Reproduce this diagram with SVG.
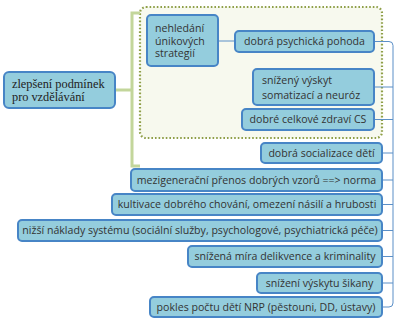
<svg xmlns="http://www.w3.org/2000/svg" width="397" height="326" viewBox="0 0 397 326">
<style>
.box{fill:#94cddd;stroke:#4785c6;stroke-width:2}
.t{font-family:"Open Sans","Liberation Sans",sans-serif;font-size:10.6px;fill:#333}
.c{text-anchor:middle}
.root{font-family:"Liberation Serif",serif;font-size:12.3px;fill:#222}
.ln{fill:none;stroke:#5b8fc7;stroke-width:1}
</style>
<rect x="0" y="0" width="397" height="326" fill="#ffffff"/>
<g id="group-box">
<rect x="140" y="7" width="242" height="131" rx="6" fill="#f7f9ee" stroke="#8f9f48" stroke-width="2.2" stroke-dasharray="1.6 2"/>
</g>
<g id="connectors">
<path d="M115 90 H132" stroke="#c3d69b" stroke-width="3" fill="none"/>
<path d="M140 13 H132 V166 H140" stroke="#c3d69b" stroke-width="3" fill="none"/>
<path class="ln" d="M218 41 H235"/>
<path class="ln" d="M374 41.5 H389 Q393 41.5 393 45.5 V303 Q393 307 389 307 H382"/>
<path class="ln" d="M374 87 H393"/>
<path class="ln" d="M374 119.5 H393"/>
<path class="ln" d="M382 153 H393"/>
<path class="ln" d="M382 180 H393"/>
<path class="ln" d="M382 204.5 H393"/>
<path class="ln" d="M382 230.5 H393"/>
<path class="ln" d="M382 256.5 H393"/>
<path class="ln" d="M382 283 H393"/>
</g>
<g id="root">
<rect class="box" x="4" y="72" width="111" height="36" rx="5"/>
<text class="root" x="12" y="87.5">zlepšení podmínek</text>
<text class="root" x="12" y="100.5">pro vzdělávání</text>
</g>
<g id="n-nehledani">
<rect class="box" x="147" y="15" width="71" height="51" rx="4"/>
<text class="t" x="155" y="32">nehledání</text>
<text class="t" x="155" y="44.5">únikových</text>
<text class="t" x="155" y="57">strategií</text>
</g>
<g id="n-pohoda">
<rect class="box" x="235" y="31" width="139" height="21" rx="4"/>
<text class="t c" x="304.5" y="45.3">dobrá psychická pohoda</text>
</g>
<g id="n-somatizace">
<rect class="box" x="253" y="69" width="121" height="36" rx="4"/>
<text class="t" x="262" y="83.5">snížený výskyt</text>
<text class="t" x="262" y="99">somatizací a neuróz</text>
</g>
<g id="n-zdravi">
<rect class="box" x="242" y="109" width="132" height="21" rx="4"/>
<text class="t c" x="308" y="123.3">dobré celkové zdraví CS</text>
</g>
<g id="n-socializace">
<rect class="box" x="261" y="143" width="121" height="20" rx="4"/>
<text class="t c" x="321.5" y="156.8">dobrá socializace dětí</text>
</g>
<g id="n-mezigeneracni">
<rect class="box" x="131" y="169" width="251" height="22" rx="4"/>
<text class="t c" x="256.5" y="183.8">mezigenerační přenos dobrých vzorů ==&gt; norma</text>
</g>
<g id="n-kultivace">
<rect class="box" x="112" y="194" width="270" height="21" rx="4"/>
<text class="t c" x="247" y="208.3">kultivace dobrého chování, omezení násilí a hrubosti</text>
</g>
<g id="n-naklady">
<rect class="box" x="18" y="220" width="364" height="21" rx="4"/>
<text class="t c" x="200" y="234.3">nižší náklady systému (sociální služby, psychologové, psychiatrická péče)</text>
</g>
<g id="n-delikvence">
<rect class="box" x="188" y="246" width="194" height="21" rx="4"/>
<text class="t c" x="285" y="260.3">snížená míra delikvence a kriminality</text>
</g>
<g id="n-sikana">
<rect class="box" x="257" y="273" width="125" height="20" rx="4"/>
<text class="t c" x="319.5" y="286.8">snížení výskytu šikany</text>
</g>
<g id="n-nrp">
<rect class="box" x="150" y="297" width="232" height="20" rx="4"/>
<text class="t c" x="266" y="310.8">pokles počtu dětí NRP (pěstouni, DD, ústavy)</text>
</g>
</svg>
